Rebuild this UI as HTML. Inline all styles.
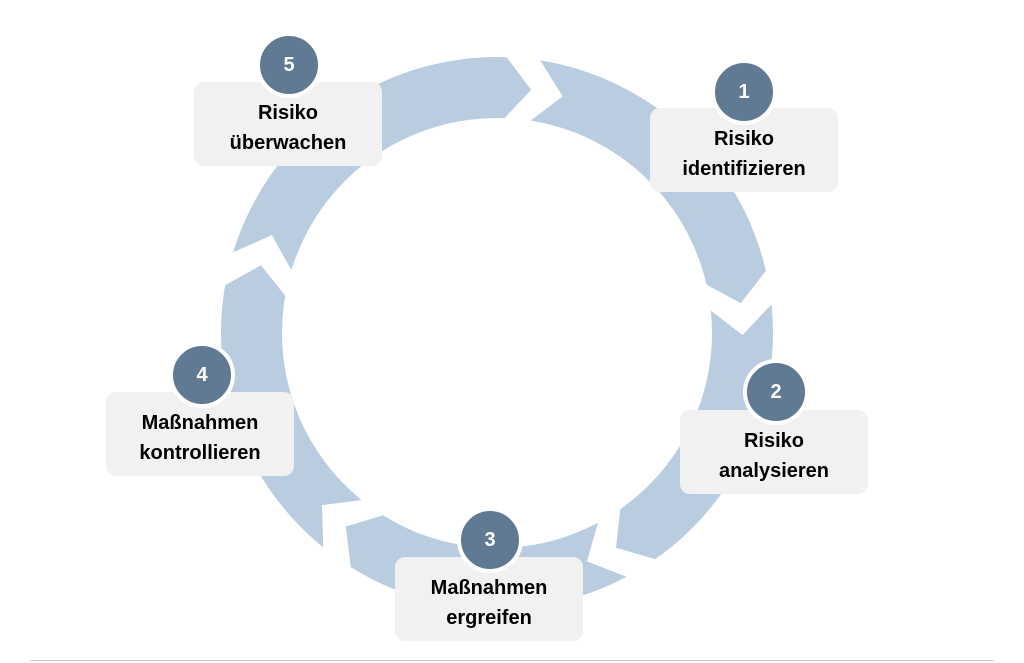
<!DOCTYPE html>
<html><head><meta charset="utf-8"><style>
body{margin:0;width:1024px;height:663px;background:#fff;position:relative;overflow:hidden;font-family:"Liberation Sans",sans-serif}
.box{position:absolute;width:188px;height:84px;background:#f1f1f1;border-radius:10px;display:flex;align-items:center;justify-content:center;text-align:center;font-weight:bold;font-size:20px;line-height:30px;color:#000;padding-top:8px;box-sizing:border-box}
.c{position:absolute;width:58px;height:58px;border-radius:50%;background:#5f7a92;border:4px solid #fff;color:#fff;font-weight:bold;font-size:20px;display:flex;align-items:center;justify-content:center;margin:-33px 0 0 -33px}
.line{position:absolute;left:30px;right:30px;top:660px;height:1px;background:#ccc}
</style></head><body>
<svg id="s" width="1024" height="663" style="position:absolute;left:0;top:0"></svg>
<div class="box" style="left:650px;top:108px">Risiko<br>identifizieren</div>
<div class="box" style="left:680px;top:410px">Risiko<br>analysieren</div>
<div class="box" style="left:395px;top:557px">Maßnahmen<br>ergreifen</div>
<div class="box" style="left:106px;top:392px">Maßnahmen<br>kontrollieren</div>
<div class="box" style="left:194px;top:82px">Risiko<br>überwachen</div>
<div class="c" style="left:744px;top:92px">1</div>
<div class="c" style="left:776px;top:392px">2</div>
<div class="c" style="left:490px;top:540px">3</div>
<div class="c" style="left:202px;top:375px">4</div>
<div class="c" style="left:289px;top:65px">5</div>
<div class="line"></div>
<script>
var cx=497,cy=333,ro=276,ri=215,rm=(ro+ri)/2;
var H=[-82,-7,61,128,196];
function p(r,a){a=a*Math.PI/180;return (cx+r*Math.cos(a)).toFixed(1)+","+(cy+r*Math.sin(a)).toFixed(1);}
var out="";
for(var i=0;i<5;i++){
 var h=H[i], t=H[(i+4)%5]; if(t>h) t-=360;
 var ts=t+1, tn=t+7.5, he=h-6;
 var d="M"+p(ro,ts)+" A"+ro+","+ro+" 0 0 1 "+p(ro,he)+" L"+p(rm,h)+" L"+p(ri,he)+" A"+ri+","+ri+" 0 0 0 "+p(ri,ts)+" L"+p(rm,tn)+" Z";
 out+='<path d="'+d+'" fill="#b9cce0"/>';
}
document.getElementById("s").innerHTML=out;
</script>
</body></html>
